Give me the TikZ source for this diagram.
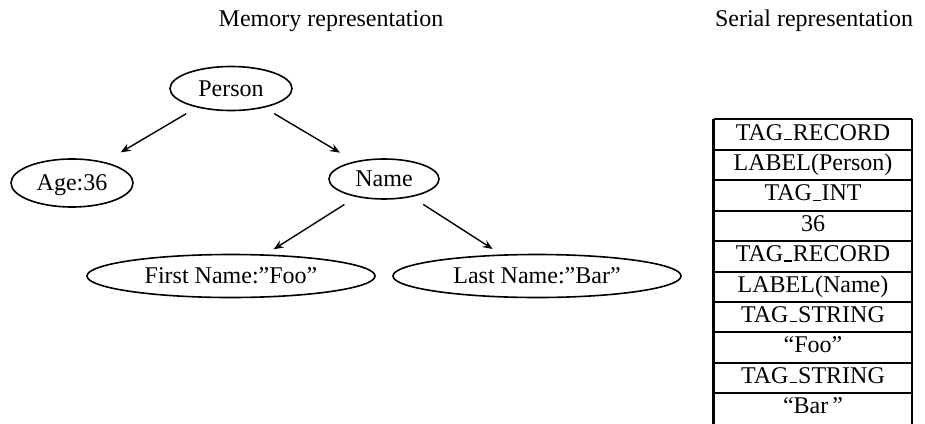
\documentclass[tikz,border=0pt]{standalone}
\usepackage{fontspec}
\setmainfont{Liberation Serif}
\usetikzlibrary{shapes.geometric,arrows.meta}

% short baseline underscore for tag names
\newcommand{\uscore}{\leavevmode\kern.04em\vbox{\hrule width.32em height.05em}\kern.04em}

\tikzset{
  txt/.style={font=\fontsize{24}{28}\selectfont},
  title/.style={txt, anchor=base, inner sep=0pt},
  field/.style={ellipse, draw, line width=1.6pt, inner sep=0pt,
                txt, text height=16pt, text depth=1pt},
  link/.style={line width=1.4pt, -{Stealth[length=10pt,width=8pt,inset=3.5pt]}},
  cell/.style={rectangle, inner sep=0pt, minimum width=198pt, minimum height=30.4pt,
               txt, text height=16pt, text depth=5pt},
  rule/.style={line width=2pt},
}

\begin{document}
\begin{tikzpicture}[x=1pt, y=-1pt]
  \useasboundingbox (0,0) rectangle (925,423);

  % headings
  \node[title] (memtitle) at (331,27) {Memory representation};
  \node[title] (sertitle) at (814,27) {Serial representation};

  % in-memory record tree
  \node[field, minimum width=122pt, minimum height=44pt] (person) at (231,88.5) {Person};
  \node[field, minimum width=122pt, minimum height=48pt] (age)    at (72,183)   {Age:36};
  \node[field, minimum width=110pt, minimum height=40pt] (name)   at (384,179)  {Name};
  \node[field, minimum width=288pt, minimum height=43pt] (first)  at (231,276)  {First Name:”Foo”};
  \node[field, minimum width=288pt, minimum height=43pt] (last)   at (537,276)  {Last Name:”Bar”};

  \draw[link, shorten <=12.4pt, shorten >=18.8pt] (person.209) -- (age.33);
  \draw[link, shorten <=11.5pt, shorten >=17pt]   (person.330) -- (name.149);
  \draw[link, shorten <=14pt,   shorten >=9.4pt]  (name.213)   -- (first.32);
  \draw[link, shorten <=13.5pt, shorten >=10pt]   (name.327)   -- (last.149);

  % serialized stream, one cell per token
  \foreach \i/\t in {1/TAG\uscore RECORD, 2/LABEL(Person), 3/TAG\uscore INT, 4/36,
                     5/TAG\uscore RECORD, 6/LABEL(Name), 7/TAG\uscore STRING, 8/“Foo”,
                     9/TAG\uscore STRING, 10/“Bar\,”}
    \node[cell] (r\i) at (813, {119.3 + 30.4*(\i-0.5)}) {\t};

  \draw[rule] (r1.north west) -- (r1.north east);
  \foreach \i in {1,...,9}
    \draw[rule] (r\i.south west) -- (r\i.south east);
  \draw[rule, line width=2.8pt] (r1.north west) -- (r10.south west);
  \draw[rule] (r1.north east) -- (r10.south east);
\end{tikzpicture}
\end{document}
